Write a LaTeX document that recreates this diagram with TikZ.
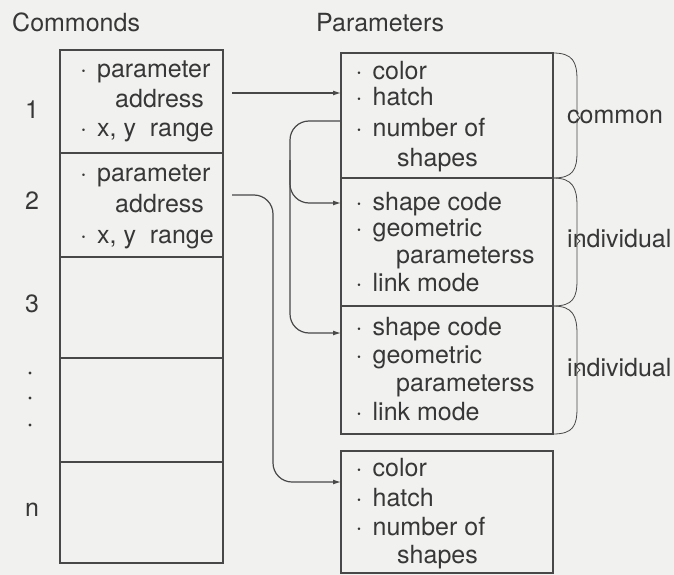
\documentclass[tikz,border=0pt]{standalone}
\usepackage{fontspec}
\setmainfont{TeX Gyre Heros}
\usetikzlibrary{arrows.meta}
\definecolor{ink}{RGB}{72,72,72}
\definecolor{txtc}{RGB}{55,55,55}
\definecolor{bg}{RGB}{241,241,239}
\newcommand\bul{\textperiodcentered\hspace{10pt}}
\begin{document}
\begin{tikzpicture}[x=1pt,y=-1pt,
  every node/.style={text=txtc},
  box/.style={draw=ink,line width=1.2pt,minimum width=#1,inner sep=0pt},
  txt/.style={anchor=base west,inner sep=0pt,font=\fontsize{25}{30}\selectfont},
  num/.style={anchor=base,inner sep=0pt,font=\fontsize{25}{30}\selectfont},
  conn/.style={draw=ink,line width=1.2pt,rounded corners=19pt},
  arr/.style={conn,-{Latex[length=8pt,width=5pt]}},
  brc/.style={draw=ink,line width=0.8pt}]
\fill[bg] (0,0) rectangle (674,575);
\useasboundingbox (0,0) rectangle (674,575);
% titles
\node[txt] (tc) at (12,32) {Commonds};
\node[txt] (tp) at (316,32) {Parameters};
% left column
\node[box=163pt,minimum height=103pt] (c1) at (141.5,101.5) {};
\node[box=163pt,minimum height=104pt] (c2) at (141.5,205) {};
\node[box=163pt,minimum height=101pt] (c3) at (141.5,307.5) {};
\node[box=163pt,minimum height=104pt] (c4) at (141.5,410) {};
\node[box=163pt,minimum height=101pt] (c5) at (141.5,512.5) {};
% row labels
\node[num] (n1) at (32,119) {1};
\node[num] (n2) at (32,209) {2};
\node[num] (n3) at (32,312) {3};
\node[num] (nn) at (32,516) {n};
\fill[txtc] (30,373) circle (1.6) (30,398) circle (1.6) (30,425) circle (1.6);
% left texts
\node[txt] (a1) at (80,78) {\bul parameter};
\node[txt] (a2) at (115,107) {address};
\node[txt] (a3) at (80,136) {\bul x, y\ \ range};
\node[txt] (b1) at (80,181) {\bul parameter};
\node[txt] (b2) at (115,212) {address};
\node[txt] (b3) at (80,243) {\bul x, y\ \ range};
% right boxes
\node[box=212pt,minimum height=125pt] (p1) at (447,115.5) {};
\node[box=212pt,minimum height=128pt] (p2) at (447,242) {};
\node[box=212pt,minimum height=128pt] (p3) at (447,370) {};
\node[box=212pt,minimum height=122pt] (p4) at (447,512) {};
% right texts
\node[txt] (r11) at (355.5,80) {\bul color};
\node[txt] (r12) at (355.5,106) {\bul hatch};
\node[txt] (r13) at (355.5,136) {\bul number of};
\node[txt] (r14) at (397,166) {shapes};
\node[txt] (r21) at (355.5,210) {\bul shape code};
\node[txt] (r22) at (355.5,236) {\bul geometric};
\node[txt] (r23) at (396,263) {parameterss};
\node[txt] (r24) at (355.5,291) {\bul link mode};
\node[txt] (r31) at (355.5,335) {\bul shape code};
\node[txt] (r32) at (355.5,363) {\bul geometric};
\node[txt] (r33) at (396,391) {parameterss};
\node[txt] (r34) at (355.5,420) {\bul link mode};
\node[txt] (r41) at (355.5,476) {\bul color};
\node[txt] (r42) at (355.5,506) {\bul hatch};
\node[txt] (r43) at (355.5,535) {\bul number of};
\node[txt] (r44) at (397,563) {shapes};
% braces
\draw[brc] (553,53) .. controls (573,53) and (577,62) .. (577,80) -- (577,110)
  .. controls (577,115) .. (580,118) .. controls (577,121) .. (577,126) -- (577,152)
  .. controls (577,170) and (573,178) .. (553,178);
\draw[brc] (553,178) .. controls (573,178) and (577,188) .. (577,206) -- (577,234)
  .. controls (577,239) .. (580,241) .. controls (577,243) .. (577,248) -- (577,280)
  .. controls (577,298) and (573,306) .. (553,306);
\draw[brc] (553,306) .. controls (573,306) and (577,316) .. (577,334) -- (577,363)
  .. controls (577,368) .. (580,370) .. controls (577,372) .. (577,377) -- (577,408)
  .. controls (577,426) and (573,434) .. (553,434);
\node[txt] (lc) at (567,124) {common};
\node[txt] (li1) at (567,247) {individual};
\node[txt] (li2) at (567,376) {individual};
% connectors
\coordinate (s1) at (232,93);
\coordinate (e1) at (341,93);
\draw[arr] (s1) -- (e1);
\coordinate (s2) at (232,195);
\coordinate (k2a) at (273,195);
\coordinate (k2b) at (273,482);
\coordinate (e2) at (341,482);
\draw[arr] (s2) -- (k2a) -- (k2b) -- (e2);
\coordinate (s3) at (341,121);
\coordinate (k3a) at (290,121);
\coordinate (k3b) at (290,333);
\coordinate (e3) at (341,333);
\coordinate (k3c) at (290,160);
\coordinate (k3d) at (290,203);
\coordinate (e4) at (341,203);
\draw[arr] (s3) -- (k3a) -- (k3b) -- (e3);
\draw[arr] (k3c) -- (k3d) -- (e4);
\end{tikzpicture}
\end{document}
